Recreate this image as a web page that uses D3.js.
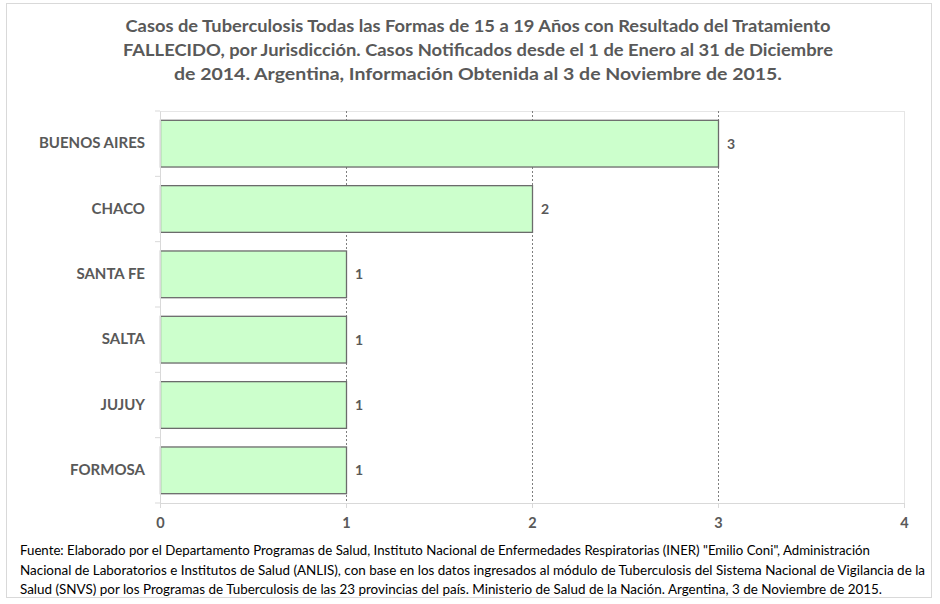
<!DOCTYPE html>
<html>
<head>
<meta charset="utf-8">
<script src="https://cdn.jsdelivr.net/npm/d3@7"></script>
<style>
  body { margin: 0; background: #fff; }
  svg text { font-family: Lato, "Open Sans", sans-serif; fill: #595959; }
</style>
</head>
<body>
<div id="chart"></div>
<script>
// data
const jurisdictions = ["BUENOS AIRES", "CHACO", "SANTA FE", "SALTA", "JUJUY", "FORMOSA"];
const deaths = [3, 2, 1, 1, 1, 1];
const xTicks = [0, 1, 2, 3, 4];
const titleLines = [
  "Casos de Tuberculosis Todas las Formas de 15 a 19 Años con Resultado del Tratamiento",
  "FALLECIDO, por Jurisdicción. Casos Notificados desde el 1 de Enero al 31 de Diciembre",
  "de 2014. Argentina, Información Obtenida al 3 de Noviembre de 2015."
];
const titleWidths = [705, 710, 608];
const sourceLines = [
  "Fuente: Elaborado por el Departamento Programas de Salud, Instituto Nacional de Enfermedades Respiratorias (INER) \"Emilio Coni\", Administración",
  "Nacional de Laboratorios e Institutos de Salud (ANLIS), con base en los datos ingresados al módulo de Tuberculosis del Sistema Nacional de Vigilancia de la",
  "Salud (SNVS) por los Programas de Tuberculosis de las 23 provincias del país. Ministerio de Salud de la Nación. Argentina,  3 de Noviembre de 2015."
];
const sourceWidths = [850, 905, 862];

const width = 940, height = 604;
const margin = {left: 160, right: 36, top: 111, bottom: 101};

const svg = d3.select("#chart").append("svg")
  .attr("width", width)
  .attr("height", height);

// outer frame
svg.append("rect")
  .attr("x", 6.5).attr("y", 3.5)
  .attr("width", 925).attr("height", 594)
  .style("fill", "none").style("stroke", "#d9d9d9");

const x = d3.scaleLinear().domain([0, 4]).range([margin.left, width - margin.right]);
const y = d3.scaleBand().domain(jurisdictions)
  .range([margin.top, height - margin.bottom])
  .paddingInner(0.285).paddingOuter(0.1425);

// title
svg.append("g").selectAll("text")
  .data(titleLines)
  .enter().append("text")
  .attr("x", 478)
  .attr("y", (d, i) => 32 + i * 24)
  .attr("text-anchor", "middle")
  .attr("textLength", (d, i) => titleWidths[i])
  .attr("lengthAdjust", "spacingAndGlyphs")
  .style("font-size", "17.5px")
  .style("font-weight", "bold")
  .text(d => d);

// plot frame (top and right)
svg.append("line")
  .attr("x1", x(0)).attr("x2", x(4))
  .attr("y1", margin.top + 0.5).attr("y2", margin.top + 0.5)
  .style("stroke", "#e6e6e6");
svg.append("line")
  .attr("x1", x(4) + 0.5).attr("x2", x(4) + 0.5)
  .attr("y1", margin.top).attr("y2", height - margin.bottom)
  .style("stroke", "#e6e6e6");

// grid lines
svg.append("g").selectAll("line")
  .data([1, 2, 3])
  .enter().append("line")
  .attr("x1", d => x(d) + 0.5).attr("x2", d => x(d) + 0.5)
  .attr("y1", margin.top).attr("y2", height - margin.bottom)
  .style("stroke", "#7f7f7f")
  .style("stroke-dasharray", "2,2");

// bars
svg.append("g").selectAll("rect")
  .data(jurisdictions)
  .enter().append("rect")
  .attr("x", x(0) + 0.5)
  .attr("y", d => y(d))
  .attr("width", (d, i) => x(deaths[i]) - x(0))
  .attr("height", y.bandwidth())
  .style("fill", "#ccffcc")
  .style("stroke", "#6b6b6b")
  .style("stroke-width", 1.3);

// value labels
svg.append("g").selectAll("text")
  .data(jurisdictions)
  .enter().append("text")
  .attr("x", (d, i) => x(deaths[i]) + 9)
  .attr("y", d => y(d) + y.bandwidth() / 2)
  .attr("dy", "0.36em")
  .style("font-size", "14px")
  .style("font-weight", "bold")
  .text((d, i) => deaths[i]);

// x axis
const xAxis = svg.append("g")
  .attr("transform", `translate(0,${height - margin.bottom})`)
  .call(d3.axisBottom(x).tickValues(xTicks).tickFormat(d3.format("d")).tickSize(5).tickPadding(10));
xAxis.select(".domain").style("stroke", "#d9d9d9");
xAxis.selectAll(".tick line").style("stroke", "#d9d9d9");
xAxis.selectAll("text")
  .style("font-size", "14.5px")
  .style("font-weight", "bold")
  .style("font-family", "Lato, sans-serif")
  .attr("fill", "#595959");

// y axis
const yAxis = svg.append("g")
  .attr("transform", `translate(${margin.left},0)`)
  .call(d3.axisLeft(y).tickSize(0).tickPadding(15));
yAxis.select(".domain").style("stroke", "#d9d9d9");
yAxis.selectAll("text")
  .style("font-size", "15px")
  .style("font-weight", "bold")
  .style("font-family", "Lato, sans-serif")
  .attr("fill", "#595959");
// small ticks between categories
yAxis.selectAll(".sep")
  .data(d3.range(jurisdictions.length + 1))
  .enter().append("line")
  .attr("class", "sep")
  .attr("x1", -5).attr("x2", 0)
  .attr("y1", i => margin.top + i * y.step())
  .attr("y2", i => margin.top + i * y.step())
  .style("stroke", "#d9d9d9");

// source note
svg.append("g").selectAll("text")
  .data(sourceLines)
  .enter().append("text")
  .attr("x", 20)
  .attr("y", (d, i) => 555 + i * 19.5)
  .attr("textLength", (d, i) => sourceWidths[i])
  .attr("lengthAdjust", "spacingAndGlyphs")
  .style("font-size", "12.5px")
  .style("fill", "#000")
  .text(d => d);
</script>
</body>
</html>
